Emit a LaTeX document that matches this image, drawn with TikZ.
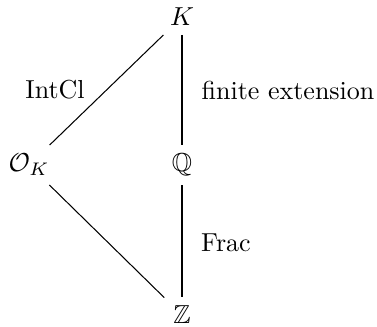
\documentclass[tikz,border=0pt]{standalone}
\usepackage{amssymb}
\begin{document}
\begin{tikzpicture}[x=0.3846pt,y=-0.3846pt,
  obj/.style={inner sep=3.3pt},
  lbl/.style={inner sep=0pt},
  edge/.style={draw=black,line width=0.4pt}]
\useasboundingbox (0,0) rectangle (377,327);
\node[obj] (K) at (182,17) {$K$};
\node[obj] (OK) at (29,165) {$\mathcal{O}_K$};
\node[obj] (Q) at (182,165) {$\mathbb{Q}$};
\node[obj] (Z) at (182,315) {$\mathbb{Z}$};
\node[lbl] (l1) at (55,90) {IntCl};
\node[lbl] (l2) at (288,90) {finite extension};
\node[lbl] (l3) at (226,243) {Frac};
\draw[edge] (K) -- (OK);
\draw[edge] (OK) -- (Z);
\draw[edge] (K) -- (Q);
\draw[edge] (Q) -- (Z);
\end{tikzpicture}
\end{document}
